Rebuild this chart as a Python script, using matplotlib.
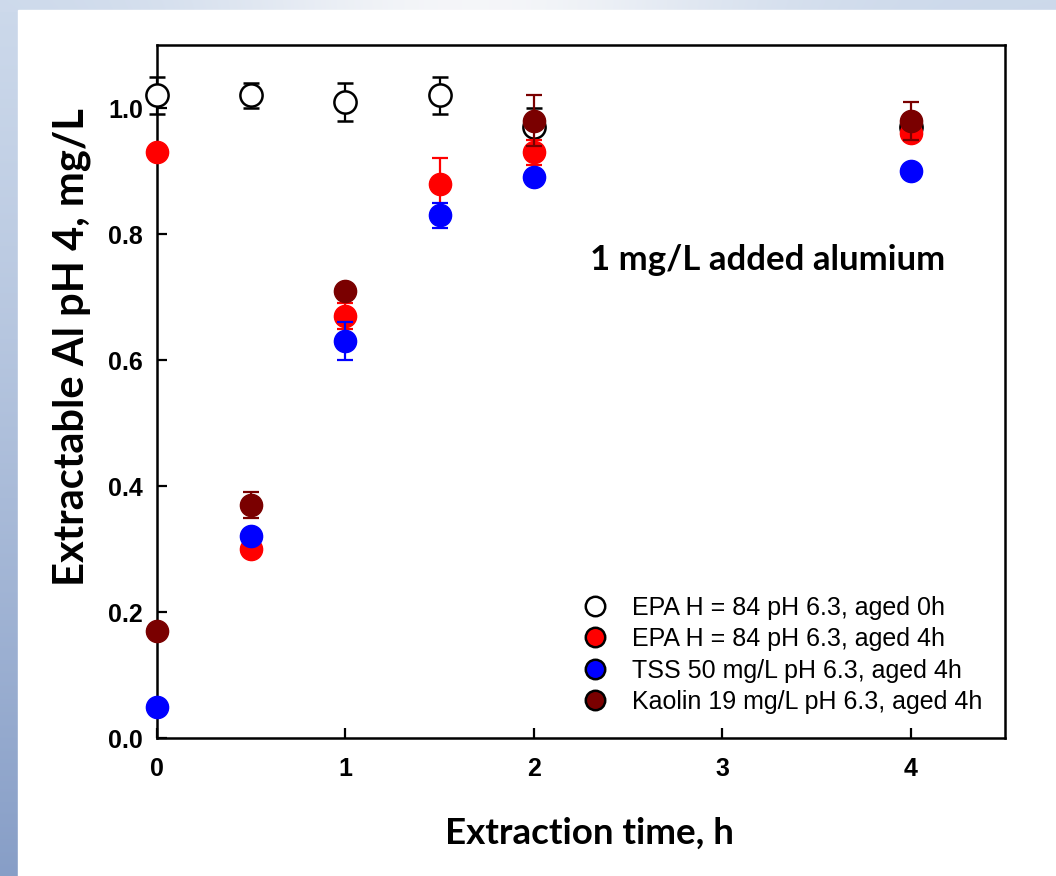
import numpy as np
import matplotlib
matplotlib.use("Agg")
import matplotlib.pyplot as plt
from matplotlib.lines import Line2D
from matplotlib.patches import Rectangle

# extraction time, h
time_h = [0, 0.5, 1, 1.5, 2, 4]

# EPA H = 84 pH 6.3, aged 0h (open circles)
aged0_y = [1.02, 1.02, 1.01, 1.02, 0.97, 0.97]
aged0_err = [0.03, 0.02, 0.03, 0.03, 0.03, 0.02]

# EPA H = 84 pH 6.3, aged 4h
aged4_y = [0.93, 0.30, 0.67, 0.88, 0.93, 0.96]
aged4_err = [0.0, 0.0, 0.02, 0.04, 0.02, 0.01]

# TSS 50 mg/L pH 6.3, aged 4h
tss_y = [0.05, 0.32, 0.63, 0.83, 0.89, 0.90]
tss_err = [0.0, 0.0, 0.03, 0.02, 0.0, 0.0]

# Kaolin 19 mg/L pH 6.3, aged 4h
kaolin_x = [0, 0.5, 1, 2, 4]
kaolin_y = [0.17, 0.37, 0.71, 0.98, 0.98]
kaolin_err = [0.0, 0.02, 0.0, 0.04, 0.03]

labels = ["EPA H = 84 pH 6.3, aged 0h",
          "EPA H = 84 pH 6.3, aged 4h",
          "TSS 50 mg/L pH 6.3, aged 4h",
          "Kaolin 19 mg/L pH 6.3, aged 4h"]

RED = "#ff0000"
BLUE = "#0000ff"
MAROON = "#7a0000"

W, H = 1056, 876
fig = plt.figure(figsize=(W / 100, H / 100), dpi=100)

# slide background: blue gradient strips on the left and top
bg = fig.add_axes([0, 0, 1, 1], zorder=-10)
yy = np.linspace(0, 1, H)[:, None]
xx = np.linspace(0, 1, W)[None, :]
top_c = np.array([0.80, 0.85, 0.92])
bot_c = np.array([0.53, 0.62, 0.78])
img = top_c + (bot_c - top_c) * yy[..., None] ** 1.2 + 0 * xx[..., None]
centre = np.exp(-((xx - 0.45) / 0.25) ** 2)[..., None]
top_rows = img[:12].copy()
top_rows = top_rows + (np.array([0.96, 0.965, 0.975]) - top_rows) * centre
img[:12] = top_rows
bg.imshow(np.clip(img, 0, 1), extent=[0, 1, 0, 1], aspect="auto", origin="upper")
bg.add_patch(Rectangle((18 / W, 0), 1, 1 - 10 / H, color="white"))
bg.set_xlim(0, 1)
bg.set_ylim(0, 1)
bg.axis("off")

ax = fig.add_axes([157 / W, 1 - 738 / H, (1005 - 157) / W, (738 - 45) / H])

ms = 16
err_kw = dict(fmt="o", markersize=ms, elinewidth=1.6, capsize=6, capthick=1.6,
              clip_on=False)

ax.errorbar(time_h, aged0_y, yerr=aged0_err, color="black", mfc="white",
            mec="black", mew=1.8, zorder=3, **err_kw)
ax.errorbar(time_h, aged4_y, yerr=aged4_err, color=RED, mfc=RED, mec=RED,
            zorder=4, **err_kw)
ax.errorbar(time_h, tss_y, yerr=tss_err, color=BLUE, mfc=BLUE, mec=BLUE,
            zorder=5, **err_kw)
ax.errorbar(kaolin_x, kaolin_y, yerr=kaolin_err, color=MAROON, mfc=MAROON,
            mec=MAROON, zorder=6, **err_kw)

ax.set_xlim(0, 4.5)
ax.set_ylim(0, 1.1)
ax.set_xticks([0, 1, 2, 3, 4])
ax.set_yticks([0.0, 0.2, 0.4, 0.6, 0.8, 1.0])
ax.set_yticklabels(["0.0", "0.2", "0.4", "0.6", "0.8", "1.0"])
ax.tick_params(direction="in", length=7, width=1.6, labelsize=18)
ax.tick_params(axis="x", pad=14)
ax.tick_params(axis="y", pad=10)
for lab in ax.get_xticklabels() + ax.get_yticklabels():
    lab.set_fontfamily("Liberation Sans")
    lab.set_fontweight("bold")
for sp in ax.spines.values():
    sp.set_linewidth(1.8)

ax.set_xlabel("Extraction time, h", fontfamily="Lato", fontweight="bold",
              fontsize=26.5)
ax.xaxis.set_label_coords(0.51, (738 - 833) / 693, transform=ax.transAxes)
ax.xaxis.label.set_va("center")
ax.set_ylabel("Extractable Al pH 4, mg/L", fontfamily="Lato", fontweight="bold",
              fontsize=30)
ax.yaxis.set_label_coords((72 - 157) / 848, (738 - 347) / 693, transform=ax.transAxes)
ax.yaxis.label.set_va("center")

ax.text(0.72, 0.69, "1 mg/L added alumium", transform=ax.transAxes,
        ha="center", va="center", fontfamily="Lato", fontweight="bold",
        fontsize=25)

handles = [
    Line2D([], [], ls="none", marker="o", ms=14, mfc="white", mec="black", mew=1.8),
    Line2D([], [], ls="none", marker="o", ms=14, mfc=RED, mec="black", mew=1.8),
    Line2D([], [], ls="none", marker="o", ms=14, mfc=BLUE, mec="black", mew=1.8),
    Line2D([], [], ls="none", marker="o", ms=14, mfc=MAROON, mec="black", mew=1.8),
]
ax.legend(handles, labels, loc="lower right", bbox_to_anchor=(1.0, 0.002),
          frameon=False, prop={"family": "Liberation Sans", "size": 18},
          handletextpad=0.9, labelspacing=0.3, handlelength=1.2)

fig.savefig("out.png", dpi=100)
